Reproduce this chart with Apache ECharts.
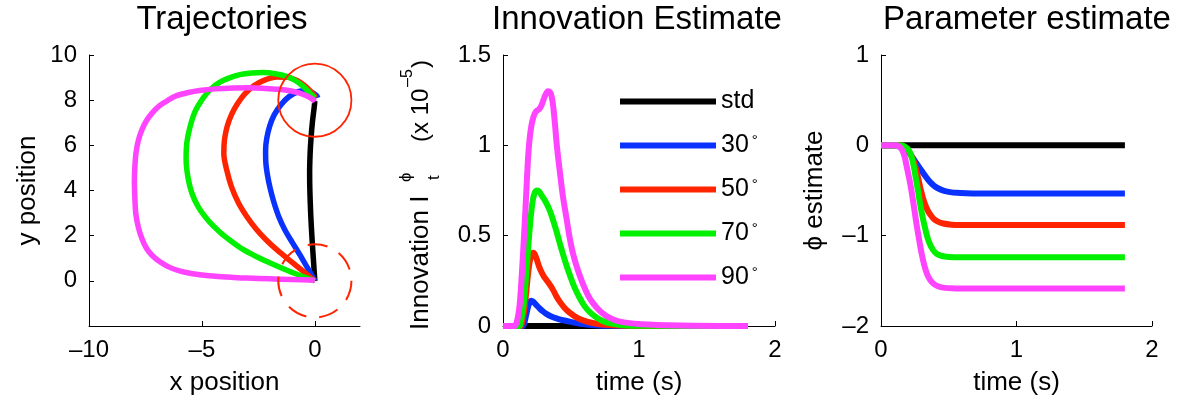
<!DOCTYPE html>
<html><head><meta charset="utf-8">
<script src="https://cdn.jsdelivr.net/npm/echarts@6/dist/echarts.min.js"></script>
<style>html,body{margin:0;padding:0;background:#fff}#c{width:1183px;height:403px}</style>
</head><body><div id="c"></div>
<script>
// ---- data ----
const seriesNames = ['std', '30°', '50°', '70°', '90°'];
const seriesColors = ['#000000', '#0a32ff', '#ff2400', '#00f000', '#ff44ff'];

// Trajectories [x, y]
const trajStd = [[0,0],[-0.06,0.9],[-0.12,1.8],[-0.18,2.9],[-0.22,4.0],[-0.23,4.8],[-0.21,5.6],[-0.17,6.3],[-0.11,7.0],[-0.05,7.5],[-0.01,7.85],[0,7.96]];
const traj30 = [[0,0],[-0.33,0.58],[-0.66,1.15],[-1.0,1.7],[-1.33,2.26],[-1.6,2.85],[-1.82,3.5],[-1.98,4.1],[-2.1,4.7],[-2.17,5.25],[-2.18,5.8],[-2.13,6.3],[-2.0,6.85],[-1.8,7.35],[-1.5,7.8],[-1.15,8.15],[-0.75,8.38],[-0.4,8.42],[-0.1,8.33],[0.08,8.2],[0.13,8.1]];
const traj50 = [[0,0],[-0.55,0.45],[-1.1,0.9],[-1.65,1.35],[-2.14,1.8],[-2.6,2.3],[-3.0,2.83],[-3.38,3.45],[-3.69,4.16],[-3.9,4.9],[-4.03,5.63],[-4.0,6.25],[-3.88,6.85],[-3.68,7.38],[-3.42,7.85],[-3.1,8.28],[-2.7,8.64],[-2.2,8.9],[-1.7,9.03],[-1.2,9.02],[-0.75,8.85],[-0.4,8.6],[-0.12,8.32],[0.05,8.1]];
const traj70 = [[0,0],[-0.5,0.18],[-1.0,0.37],[-1.5,0.58],[-2.0,0.8],[-2.6,1.08],[-3.2,1.4],[-3.7,1.75],[-4.2,2.15],[-4.7,2.65],[-5.15,3.25],[-5.45,3.9],[-5.62,4.6],[-5.7,5.4],[-5.67,6.1],[-5.53,6.8],[-5.3,7.5],[-4.94,8.1],[-4.6,8.5],[-4.2,8.8],[-3.75,9.0],[-3.32,9.13],[-2.8,9.2],[-2.29,9.22],[-1.75,9.17],[-1.25,9.05],[-0.85,8.86],[-0.5,8.6],[-0.2,8.3],[0,8.1]];
const traj90 = [[0,0.03],[-1,0.06],[-2,0.09],[-3,0.12],[-3.6,0.15],[-4.4,0.2],[-5.1,0.27],[-5.7,0.37],[-6.12,0.48],[-6.5,0.63],[-6.86,0.84],[-7.2,1.12],[-7.45,1.43],[-7.65,1.85],[-7.82,2.39],[-7.93,3.0],[-7.97,3.7],[-7.99,4.4],[-7.97,5.04],[-7.92,5.65],[-7.82,6.2],[-7.66,6.68],[-7.45,7.1],[-7.18,7.46],[-6.86,7.77],[-6.5,8.0],[-6.12,8.2],[-5.6,8.34],[-5.1,8.43],[-4.4,8.5],[-3.6,8.54],[-2.9,8.55],[-2.2,8.52],[-1.6,8.48],[-1.1,8.42],[-0.7,8.32],[-0.35,8.18],[-0.1,8.04],[0,7.93]];
// circles [x, y, radius]
const circleSolid = [[0, 8, 1.62]];
const circleDashed = [[0, 0, 1.62]];

// Innovation estimate [t, value x1e-5]
const innovStd = [[0,0],[1.8,0]];
const innov30 = [[0,0],[0.145,0],[0.158,0.02],[0.17,0.06],[0.182,0.1],[0.195,0.13],[0.209,0.14],[0.222,0.135],[0.235,0.125],[0.25,0.112],[0.27,0.097],[0.295,0.08],[0.319,0.067],[0.355,0.053],[0.393,0.042],[0.44,0.032],[0.49,0.024],[0.54,0.017],[0.589,0.011],[0.65,0.006],[0.7,0.003],[0.8,0.001],[0.9,0],[1.8,0]];
const innov50 = [[0,0],[0.13,0],[0.14,0.02],[0.155,0.08],[0.17,0.18],[0.183,0.28],[0.195,0.35],[0.208,0.39],[0.222,0.405],[0.235,0.395],[0.25,0.365],[0.265,0.33],[0.282,0.30],[0.3,0.275],[0.319,0.255],[0.343,0.23],[0.368,0.20],[0.392,0.165],[0.417,0.135],[0.45,0.103],[0.49,0.074],[0.54,0.048],[0.589,0.031],[0.65,0.018],[0.71,0.01],[0.8,0.004],[0.9,0.001],[1.0,0],[1.8,0]];
const innov70 = [[0,0],[0.12,0],[0.13,0.02],[0.145,0.08],[0.16,0.18],[0.175,0.33],[0.19,0.48],[0.205,0.61],[0.22,0.7],[0.235,0.74],[0.25,0.75],[0.265,0.745],[0.282,0.725],[0.3,0.705],[0.319,0.68],[0.338,0.65],[0.356,0.615],[0.375,0.57],[0.393,0.525],[0.415,0.465],[0.44,0.40],[0.465,0.34],[0.49,0.285],[0.525,0.215],[0.564,0.155],[0.6,0.11],[0.64,0.075],[0.69,0.045],[0.736,0.027],[0.8,0.013],[0.86,0.006],[1.0,0.001],[1.8,0]];
const innov90 = [[0,0],[0.086,0],[0.1,0.02],[0.112,0.06],[0.123,0.12],[0.133,0.22],[0.145,0.37],[0.157,0.53],[0.17,0.72],[0.182,0.9],[0.195,1.03],[0.209,1.11],[0.225,1.16],[0.245,1.19],[0.265,1.2],[0.282,1.22],[0.297,1.25],[0.312,1.28],[0.33,1.30],[0.345,1.295],[0.358,1.27],[0.37,1.21],[0.383,1.11],[0.397,0.99],[0.417,0.86],[0.44,0.72],[0.466,0.6],[0.49,0.49],[0.515,0.40],[0.55,0.31],[0.589,0.23],[0.625,0.17],[0.663,0.125],[0.71,0.085],[0.76,0.055],[0.81,0.036],[0.86,0.024],[0.93,0.016],[1.0,0.011],[1.1,0.007],[1.2,0.004],[1.4,0.001],[1.8,0]];

// Parameter estimate [t, phi]
const paramStd = [[0,0],[1.8,0]];
const param30 = [[0,0],[0.14,0],[0.165,-0.015],[0.19,-0.05],[0.215,-0.095],[0.24,-0.15],[0.265,-0.205],[0.29,-0.26],[0.315,-0.315],[0.34,-0.365],[0.365,-0.41],[0.39,-0.445],[0.42,-0.475],[0.46,-0.502],[0.51,-0.518],[0.56,-0.526],[0.63,-0.53],[0.71,-0.532],[1.8,-0.532]];
const param50 = [[0,0],[0.14,0],[0.165,-0.01],[0.19,-0.035],[0.215,-0.09],[0.24,-0.17],[0.258,-0.26],[0.277,-0.38],[0.295,-0.5],[0.314,-0.605],[0.332,-0.68],[0.35,-0.735],[0.37,-0.78],[0.39,-0.815],[0.42,-0.845],[0.46,-0.865],[0.52,-0.878],[0.58,-0.882],[1.8,-0.882]];
const param70 = [[0,0],[0.15,0],[0.175,-0.015],[0.2,-0.045],[0.222,-0.11],[0.24,-0.22],[0.258,-0.37],[0.275,-0.52],[0.29,-0.66],[0.308,-0.8],[0.326,-0.92],[0.345,-1.03],[0.363,-1.1],[0.385,-1.16],[0.41,-1.2],[0.45,-1.225],[0.5,-1.235],[0.6,-1.238],[1.8,-1.238]];
const param90 = [[0,0],[0.11,0],[0.13,-0.01],[0.155,-0.05],[0.175,-0.13],[0.19,-0.236],[0.21,-0.38],[0.228,-0.53],[0.247,-0.72],[0.265,-0.9],[0.283,-1.06],[0.30,-1.2],[0.32,-1.33],[0.34,-1.425],[0.365,-1.495],[0.39,-1.535],[0.42,-1.56],[0.46,-1.575],[0.52,-1.582],[0.58,-1.585],[1.8,-1.585]];

// tick values
const trajXTicks = [-10, -5, 0];
const trajYTicks = [0, 2, 4, 6, 8, 10];
const timeTicks = [0, 1, 2];
const innovYTicks = [0, 0.5, 1, 1.5];
const paramYTicks = [-2, -1, 0, 1];

// ---- chart ----
const FONT = 'Liberation Sans, Arial, Helvetica, sans-serif';
const chart = echarts.init(document.getElementById('c'), null, {renderer: 'canvas'});
const fmt = v => (v < 0 ? '\u2013' + Math.abs(v) : String(v));

function valAxis(grid, min, max, ticks, extra) {
  return Object.assign({
    type: 'value', gridIndex: grid, min: min, max: max,
    axisLine: {show: true, onZero: false, lineStyle: {color: '#000', width: 1}},
    axisTick: {show: true, inside: true, length: 5, customValues: ticks, lineStyle: {color: '#000', width: 1}},
    axisLabel: {show: true, customValues: ticks, formatter: fmt, color: '#000', fontSize: 24, fontFamily: FONT, margin: 12},
    splitLine: {show: false},
    nameTextStyle: {color: '#000', fontSize: 26, fontFamily: FONT},
    nameLocation: 'middle'
  }, extra || {});
}

const trajSets = [trajStd, traj30, traj50, traj70, traj90];
const innovSets = [innovStd, innov30, innov50, innov70, innov90];
const paramSets = [paramStd, param30, param50, param70, param90];

const series = [];
function addLines(sets, grid, width, smooth) {
  sets.forEach((d, i) => {
    series.push({
      type: 'line', name: seriesNames[i], xAxisIndex: grid, yAxisIndex: grid,
      data: d, showSymbol: false, symbol: 'none', clip: false,
      smooth: smooth,
      color: seriesColors[i],
      lineStyle: {color: seriesColors[i], width: width, cap: 'butt', join: 'round'},
      emphasis: {disabled: true}, z: 2 + i
    });
  });
}
addLines(trajSets, 0, 5.5, 0.3);
addLines(innovSets, 1, 6, 0.25);
addLines(paramSets, 2, 6, 0.25);

function circleSeries(data, dash, width) {
  return {
    type: 'custom', xAxisIndex: 0, yAxisIndex: 0, data: data, clip: false, z: 10,
    renderItem: function (params, api) {
      const c = api.coord([api.value(0), api.value(1)]);
      const r = api.size([api.value(2), 0])[0];
      return {type: 'circle', shape: {cx: c[0], cy: c[1], r: r},
        style: {fill: 'none', stroke: '#ff2400', lineWidth: width, lineDash: dash}};
    }
  };
}
series.push(circleSeries(circleSolid, null, 1.8));
series.push(circleSeries(circleDashed, [20, 13], 2));

const option = {
  animation: false,
  backgroundColor: '#fff',
  textStyle: {fontFamily: FONT},
  grid: [
    {left: 89, top: 55, width: 271, height: 271, containLabel: false, outerBoundsMode: 'none'},
    {left: 503, top: 55, width: 272, height: 271, containLabel: false, outerBoundsMode: 'none'},
    {left: 881, top: 55, width: 271, height: 271, containLabel: false, outerBoundsMode: 'none'}
  ],
  xAxis: [
    valAxis(0, -10, 2, trajXTicks, {name: 'x position', nameGap: 44}),
    valAxis(1, 0, 2, timeTicks, {name: 'time (s)', nameGap: 44}),
    valAxis(2, 0, 2, timeTicks, {name: 'time (s)', nameGap: 44})
  ],
  yAxis: [
    valAxis(0, -2, 10, trajYTicks, {name: 'y position', nameGap: 48, nameRotate: 90}),
    valAxis(1, 0, 1.5, innovYTicks, {}),
    valAxis(2, -2, 1, paramYTicks, {name: '\u03d5 estimate', nameGap: 53, nameRotate: 90})
  ],
  legend: {
    show: true, orient: 'vertical', left: 615, top: 84,
    data: seriesNames, icon: 'rect', itemWidth: 96, itemHeight: 6, itemGap: 19,
    selectedMode: false,
    formatter: n => n.indexOf('°') >= 0 ? n.replace('°', '') + '{d|°}' : n,
    textStyle: {color: '#000', fontSize: 25, lineHeight: 25, fontFamily: FONT,
      rich: {d: {fontSize: 15, lineHeight: 25, verticalAlign: 'top', color: '#000', fontFamily: FONT, padding: [0, 0, 0, 3]}}}
  },
  graphic: [
    {type: 'text', x: 222, y: 20, style: {text: 'Trajectories', fill: '#000', font: '33px ' + FONT, textAlign: 'center', textVerticalAlign: 'middle'}},
    {type: 'text', x: 637, y: 20, style: {text: 'Innovation Estimate', fill: '#000', font: '33px ' + FONT, textAlign: 'center', textVerticalAlign: 'middle'}},
    {type: 'text', x: 1027, y: 20, style: {text: 'Parameter estimate', fill: '#000', font: '33px ' + FONT, textAlign: 'center', textVerticalAlign: 'middle'}},
    {type: 'group', x: 421, y: 330, rotation: Math.PI / 2, children: [
      {type: 'text', x: 0, y: 0, style: {text: 'Innovation I', fill: '#000', font: '26px ' + FONT, textAlign: 'left', textVerticalAlign: 'middle'}},
      {type: 'text', x: 148, y: -15, style: {text: '\u03d5', fill: '#000', font: '17px ' + FONT, textAlign: 'left', textVerticalAlign: 'middle'}},
      {type: 'text', x: 150, y: 13, style: {text: 't', fill: '#000', font: '17px ' + FONT, textAlign: 'left', textVerticalAlign: 'middle'}},
      {type: 'text', x: 188, y: 0, style: {text: '(x 10', fill: '#000', font: '24px ' + FONT, textAlign: 'left', textVerticalAlign: 'middle'}},
      {type: 'text', x: 243, y: -13, style: {text: '\u20135', fill: '#000', font: '16px ' + FONT, textAlign: 'left', textVerticalAlign: 'middle'}},
      {type: 'text', x: 262, y: 0, style: {text: ')', fill: '#000', font: '24px ' + FONT, textAlign: 'left', textVerticalAlign: 'middle'}}
    ]}
  ],
  series: series
};
chart.setOption(option);
</script>
</body></html>
